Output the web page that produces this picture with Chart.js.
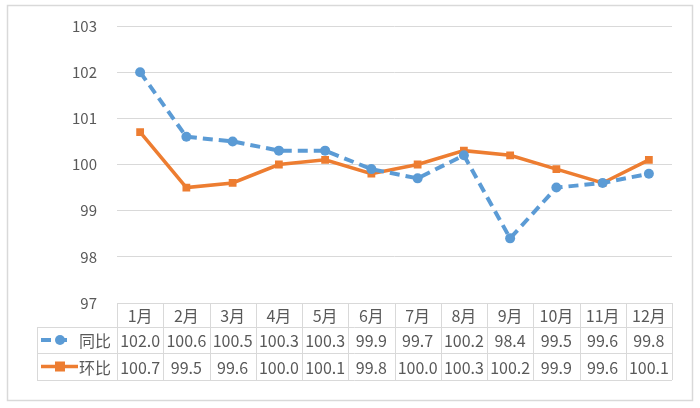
<!DOCTYPE html>
<html>
<head>
<meta charset="utf-8">
<script src="https://cdn.jsdelivr.net/npm/chart.js@4/dist/chart.umd.min.js"></script>
<style>
  body { margin: 0; background: #fff; }
  #wrap { width: 700px; height: 408px; }
</style>
</head>
<body>
<div id="wrap"><canvas id="grafico" width="700" height="408"></canvas></div>
<script>
const meses = ["1月", "2月", "3月", "4月", "5月", "6月", "7月", "8月", "9月", "10月", "11月", "12月"];
const tongbi = [102.0, 100.6, 100.5, 100.3, 100.3, 99.9, 99.7, 100.2, 98.4, 99.5, 99.6, 99.8];
const huanbi = [100.7, 99.5, 99.6, 100.0, 100.1, 99.8, 100.0, 100.3, 100.2, 99.9, 99.6, 100.1];
const nombres = ["同比", "环比"];

const azul = "#5B9BD5";
const naranja = "#ED7D31";
const gris = "#595959";
const linea = "#d9d9d9";
const fuente = "'Noto Sans CJK SC', 'Noto Sans', sans-serif";

// Plugin que dibuja el marco y la tabla de datos debajo del eje
const tablaDatos = {
    id: "tablaDatos",
    beforeDraw(chart) {
        const ctx = chart.ctx;
        ctx.save();
        ctx.fillStyle = "#fff";
        ctx.fillRect(0, 0, chart.width, chart.height);
        ctx.strokeStyle = linea;
        ctx.lineWidth = 1.5;
        ctx.strokeRect(7.5, 5.5, 685, 395);
        ctx.restore();
    },
    afterDraw(chart) {
        const ctx = chart.ctx;
        const x = chart.scales.x;
        const area = chart.chartArea;
        const ancho = (area.right - area.left) / meses.length;
        const filas = [area.bottom, area.bottom + 24, area.bottom + 50, area.bottom + 77];
        const izq = 37;

        ctx.save();
        ctx.strokeStyle = linea;
        ctx.lineWidth = 1;
        // lineas horizontales
        ctx.beginPath();
        ctx.moveTo(area.left, Math.round(filas[0]) + 0.5);
        ctx.lineTo(area.right, Math.round(filas[0]) + 0.5);
        for (let i = 1; i < filas.length; i++) {
            ctx.moveTo(izq, Math.round(filas[i]) + 0.5);
            ctx.lineTo(area.right, Math.round(filas[i]) + 0.5);
        }
        // lineas verticales
        for (let i = 0; i <= meses.length; i++) {
            const xx = Math.round(area.left + i * ancho) + 0.5;
            ctx.moveTo(xx, filas[0]);
            ctx.lineTo(xx, filas[3]);
        }
        ctx.moveTo(izq + 0.5, filas[1]);
        ctx.lineTo(izq + 0.5, filas[3]);
        ctx.stroke();

        ctx.fillStyle = gris;
        ctx.font = "16px " + fuente;
        ctx.textAlign = "center";
        ctx.textBaseline = "middle";
        meses.forEach((m, i) => {
            const cx = x.getPixelForValue(i);
            ctx.fillText(m, cx, (filas[0] + filas[1]) / 2 + 1);
            ctx.fillText(tongbi[i].toFixed(1), cx, (filas[1] + filas[2]) / 2 + 1);
            ctx.fillText(huanbi[i].toFixed(1), cx, (filas[2] + filas[3]) / 2 + 1);
        });

        // leyenda dentro de la tabla
        const y1 = (filas[1] + filas[2]) / 2;
        const y2 = (filas[2] + filas[3]) / 2;
        ctx.lineWidth = 4;
        ctx.strokeStyle = azul;
        ctx.setLineDash([10, 6]);
        ctx.beginPath();
        ctx.moveTo(41, y1);
        ctx.lineTo(69, y1);
        ctx.stroke();
        ctx.setLineDash([]);
        ctx.fillStyle = azul;
        ctx.beginPath();
        ctx.arc(60, y1, 5, 0, Math.PI * 2);
        ctx.fill();

        ctx.strokeStyle = naranja;
        ctx.lineWidth = 3.5;
        ctx.beginPath();
        ctx.moveTo(41, y2);
        ctx.lineTo(78, y2);
        ctx.stroke();
        ctx.fillStyle = naranja;
        ctx.fillRect(55, y2 - 5, 10, 10);

        ctx.fillStyle = gris;
        ctx.textAlign = "right";
        ctx.fillText(nombres[0], 111, y1 + 1);
        ctx.fillText(nombres[1], 111, y2 + 1);
        ctx.restore();
    }
};

const grafico = document.getElementById("grafico").getContext("2d");

new Chart(grafico, {
    type: "line",
    data: {
        labels: meses,
        datasets: [
            {
                label: nombres[0],
                data: tongbi,
                borderColor: azul,
                backgroundColor: azul,
                borderWidth: 4,
                borderDash: [10, 6],
                pointStyle: "circle",
                pointRadius: 5,
                pointBorderWidth: 0,
                tension: 0
            },
            {
                label: nombres[1],
                data: huanbi,
                borderColor: naranja,
                backgroundColor: naranja,
                borderWidth: 3.5,
                pointStyle: "rect",
                pointRadius: 5.5,
                pointBorderWidth: 0,
                tension: 0
            }
        ]
    },
    options: {
        responsive: false,
        animation: false,
        devicePixelRatio: 1,
        layout: { padding: { left: 0, right: 28, top: 26, bottom: 105 } },
        plugins: {
            legend: { display: false },
            tooltip: { enabled: false }
        },
        scales: {
            x: {
                display: false,
                offset: true
            },
            y: {
                min: 97,
                max: 103,
                afterFit(scale) { scale.width = 117; },
                ticks: {
                    stepSize: 1,
                    padding: 0,
                    color: gris,
                    font: { size: 15, family: fuente }
                },
                grid: {
                    color: linea,
                    drawTicks: true,
                    tickLength: 20,
                    tickColor: "rgba(0,0,0,0)"
                },
                border: { display: false }
            }
        }
    },
    plugins: [tablaDatos]
});
</script>
</body>
</html>
